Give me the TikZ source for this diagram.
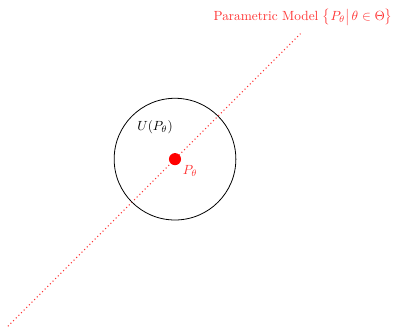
\documentclass[tikz,border=0pt]{standalone}
\usepackage{amsmath,amssymb}
\usetikzlibrary{positioning}
\definecolor{mred}{HTML}{FF3333}

\begin{document}
\begin{tikzpicture}
 \useasboundingbox (-4.63,-4.50) rectangle (5.82,4.21);
 \coordinate (lo) at (-4.42,-4.42);
 \coordinate (hi) at (3.32,3.32);
 \draw[mred, dotted, line width=0.8pt] (lo) -- (hi);
 \node[circle, draw=black, line width=0.6pt, minimum size=3.22cm] (ball) at (0,0) {};
 \node[circle, fill=red, inner sep=0pt, minimum size=0.32cm] (pt) at (0,0) {};
 \node[text=mred] (ptlab) at (0.40,-0.32) {$P_\theta$};
 \node (balllab) at (-0.53,0.85) {$U(P_\theta)$};
 \node[text=mred] (model) at (3.39,3.76) {Parametric Model $\big\{P_\theta\big|\,\theta\in\Theta\big\}$};
\end{tikzpicture}
\end{document}
